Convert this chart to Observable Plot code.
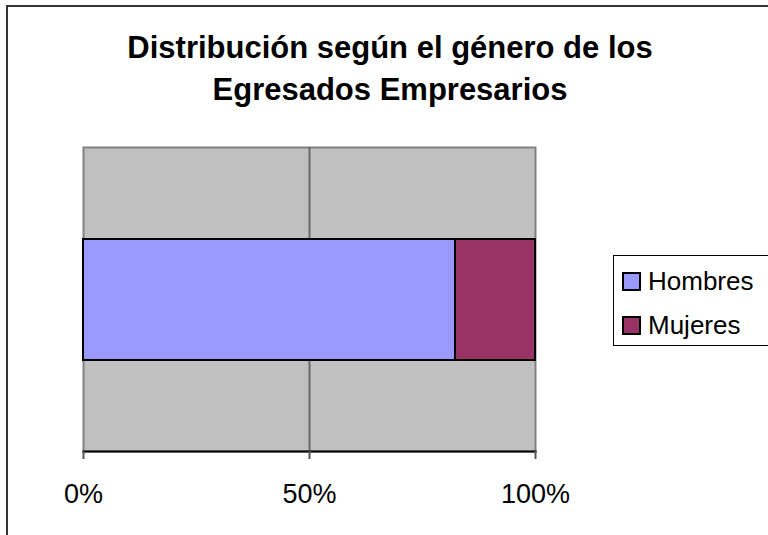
<!DOCTYPE html>
<html>
<head>
<meta charset="utf-8">
<script src="https://cdn.jsdelivr.net/npm/d3@7"></script>
<script src="https://cdn.jsdelivr.net/npm/@observablehq/plot@0.6"></script>
<style>
  html, body { margin: 0; padding: 0; background: #fff; overflow: hidden; }
  #wrap { position: relative; width: 768px; height: 535px; overflow: hidden; font-family: "Liberation Sans", Arial, sans-serif; }
  #border { position: absolute; left: 6px; top: 5px; width: 900px; height: 700px; border-left: 2px solid #333; border-top: 2px solid #333; box-sizing: border-box; }
  #title { position: absolute; left: 90px; width: 600px; top: 27px; text-align: center; font-weight: bold; font-size: 31px; line-height: 42px; color: #000; }
  #legend { position: absolute; left: 613px; top: 255px; width: 200px; height: 91px; border: 1px solid #000; box-sizing: border-box; padding-top: 3px; padding-left: 8px; background: #fff; }
  .row { display: flex; align-items: center; height: 44px; line-height: 44px; font-size: 26px; color: #000; }
  .sw { width: 15px; height: 15px; border: 2px solid #000; margin-right: 7px; }
  #chart { position: absolute; left: 0; top: 0; }
</style>
</head>
<body>
<div id="wrap">
  <div id="border"></div>
  <div id="chart"></div>
  <div id="title">Distribución según el género de los<br>Egresados Empresarios</div>
  <div id="legend"></div>
</div>
<script>
const series = ["Hombres", "Mujeres"];
const values = [82.3, 17.7];
const colors = ["#9999FF", "#993366"];
const category = "Egresados";
const xTicks = [0, 50, 100];

const data = series.map((s, i) => ({serie: s, value: values[i], cat: category}));

const chart = Plot.plot({
  width: 768,
  height: 535,
  marginLeft: 83,
  marginRight: 233,
  marginTop: 147,
  marginBottom: 84,
  style: {fontFamily: "Liberation Sans, Arial, sans-serif", background: "transparent", overflow: "visible"},
  x: {domain: [0, 100], ticks: xTicks, tickFormat: d => d + "%", label: null},
  y: {domain: [category], paddingInner: 0, paddingOuter: 0.75, axis: null, label: null},
  color: {domain: series, range: colors},
  marks: [
    Plot.frame({fill: "#C0C0C0", stroke: "#808080", strokeWidth: 2}),
    Plot.ruleX([50], {stroke: "#6a6a6a", strokeWidth: 2}),
    Plot.barX(data, Plot.stackX({x: "value", y: "cat", fill: "serie", stroke: "#000", strokeWidth: 2, order: series})),
    Plot.frame({anchor: "bottom", stroke: "#000", strokeWidth: 2}),
    Plot.axisX({ticks: xTicks, tickFormat: d => d + "%", tickSize: 8, tickPadding: 24, fontSize: 27, stroke: "#555", strokeWidth: 2, fill: "#000", label: null})
  ]
});
document.getElementById("chart").appendChild(chart);

const legend = document.getElementById("legend");
series.forEach((s, i) => {
  const row = document.createElement("div");
  row.className = "row";
  const sw = document.createElement("div");
  sw.className = "sw";
  sw.style.background = colors[i];
  const t = document.createElement("span");
  t.textContent = s;
  row.appendChild(sw);
  row.appendChild(t);
  legend.appendChild(row);
});
</script>
</body>
</html>
